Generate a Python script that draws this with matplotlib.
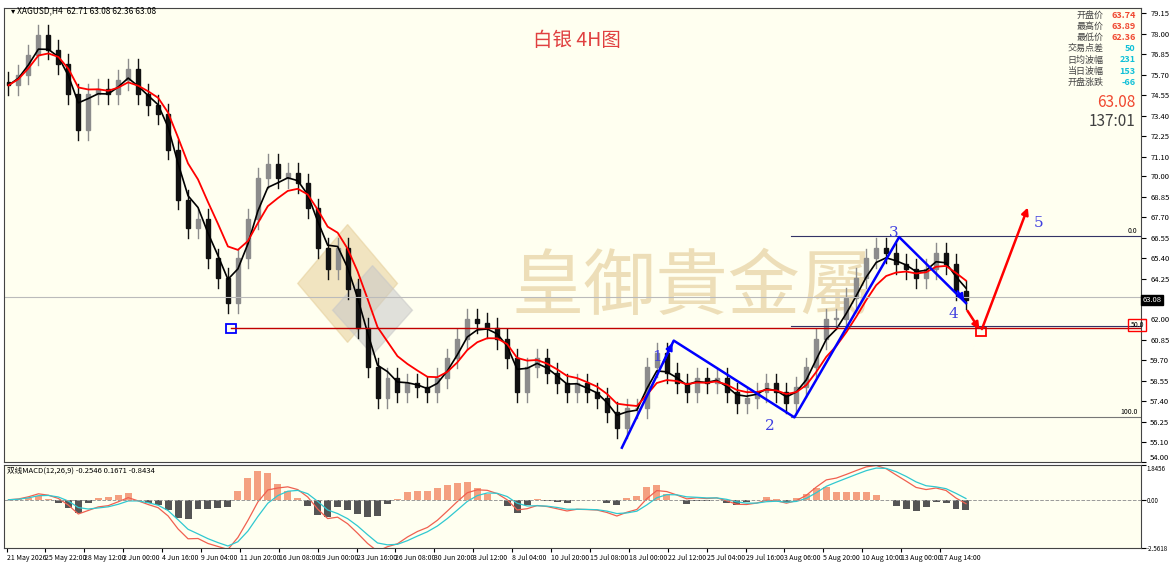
import numpy as np
import pandas as pd
import matplotlib.pyplot as plt
from matplotlib.patches import Rectangle, Polygon

plt.rcParams['font.family'] = ['Noto Sans CJK SC', 'DejaVu Sans']

# closes (one every ~4 bars)
closes = [75.1, 75.7, 76.8, 77.9, 77.1, 76.3, 74.6, 72.6, 74.6, 74.9,
          74.6, 75.4, 76.0, 74.6, 74.0, 73.5, 71.5, 68.7, 67.1, 67.6,
          65.4, 64.3, 62.9, 65.4, 67.6, 69.9, 70.7, 69.9, 70.2, 69.6,
          68.2, 66.0, 64.8, 66.0, 63.7, 61.5, 59.3, 57.6, 58.7, 57.9,
          58.4, 58.2, 57.9, 58.7, 59.8, 60.9, 62.0, 61.8, 61.5, 60.9,
          59.8, 57.9, 59.3, 59.8, 59.0, 58.4, 57.9, 58.4, 57.9, 57.6,
          56.8, 55.9, 57.0, 57.0, 59.3, 60.1, 59.0, 58.4, 57.9, 58.7,
          58.4, 58.7, 57.9, 57.3, 57.6, 57.9, 58.4, 57.9, 57.3, 58.2,
          59.3, 60.9, 62.0, 62.0, 63.2, 64.3, 65.4, 66.0, 65.7, 65.1,
          64.8, 64.3, 64.8, 65.7, 65.1, 63.6, 63.1]
first_open = 75.3
wick = 0.55

date_labels = ["21 May 2026", "25 May 22:00", "28 May 12:00", "2 Jun 00:00", "4 Jun 16:00",
               "9 Jun 04:00", "11 Jun 20:00", "16 Jun 08:00", "19 Jun 00:00", "23 Jun 16:00",
               "26 Jun 08:00", "30 Jun 20:00", "3 Jul 12:00", "8 Jul 04:00", "10 Jul 20:00",
               "15 Jul 08:00", "18 Jul 00:00", "22 Jul 12:00", "25 Jul 04:00", "29 Jul 16:00",
               "3 Aug 06:00", "5 Aug 20:00", "10 Aug 10:00", "13 Aug 00:00", "17 Aug 14:00"]
price_ticks = [79.15, 78.00, 76.85, 75.70, 74.55, 73.40, 72.25, 71.10, 70.00, 68.85,
               67.70, 66.55, 65.40, 64.25, 62.00, 60.85, 59.70, 58.55, 57.40, 56.25, 55.10, 54.00]

info_names = ["开盘价", "最高价", "最低价", "交易点差", "日均波幅", "当日波幅", "开盘涨跌"]
info_vals = ["63.74", "63.89", "62.36", "50", "231", "153", "-66"]

support = 61.5
fib_0, fib_50, fib_100 = 66.68, 61.62, 56.5
last_price = 63.08
wave_x = [620, 672, 793, 898, 965]
wave_y = [54.8, 60.8, 56.5, 66.6, 62.9]
proj_x = [965, 980, 1028]
proj_y = [62.6, 61.3, 68.4]

bg = "#fffff0"
c = np.array(closes)
o = np.concatenate([[first_open], c[:-1]])
hi = np.maximum(o, c) + wick
lo = np.minimum(o, c) - wick
xs = 5 + 10 * np.arange(len(c))

s = pd.Series(c)
ma_fast = s.ewm(span=3).mean()
ma_slow = s.ewm(span=6).mean()
macd = s.ewm(span=4).mean() - s.ewm(span=9).mean()
sig = macd.ewm(span=3).mean()
hist = macd - sig

fig = plt.figure(figsize=(11.7, 5.65), dpi=100, facecolor="white")
W, H = 1170, 565
ax = fig.add_axes([0.003, 1 - 462 / H, 1137 / W, 454 / H], facecolor=bg)
ax2 = fig.add_axes([0.003, 1 - 548 / H, 1137 / W, 83 / H], facecolor=bg)

# candles
for x, oo, cc, h, l in zip(xs, o, c, hi, lo):
    col = "#8c8c8c" if cc >= oo else "#111111"
    ax.plot([x, x], [l, h], color=col, lw=1)
    ax.add_patch(Rectangle((x - 2, min(oo, cc)), 4, max(abs(cc - oo), 0.05), color=col))
ax.plot(xs, ma_fast, color="black", lw=1.2)
ax.plot(xs, ma_slow, color="red", lw=1.3)

# watermark
ax.add_patch(Polygon([(295, 64.0), (345, 67.3), (395, 64.0), (345, 60.7)], closed=True,
                     color="#e6cf9a", alpha=0.55, zorder=0))
ax.add_patch(Polygon([(330, 62.5), (370, 65.0), (410, 62.5), (370, 60.0)], closed=True,
                     color="#c8c8c8", alpha=0.55, zorder=0))
ax.text(690, 63.7, "皇御貴金屬", fontsize=52, color="#e8d4a6", alpha=0.75,
        ha="center", va="center", zorder=0)

ax.text(575, 77.6, "白银 4H图", fontsize=14, color="#e04040", ha="center", va="center",
        family=["Noto Sans CJK SC", "DejaVu Sans"])
ax.text(8, 79.25, "▾ XAGUSD,H4  62.71 63.08 62.36 63.08", fontsize=6, va="center")

# levels
ax.plot([228, 1140], [support, support], color="#c00000", lw=1)
ax.add_patch(Rectangle((223, support - 0.25), 10, 0.5, fill=False, ec="blue", lw=1.3))
ax.axhline(63.23, color="#bbbbbb", lw=0.8)
for lv, lab in [(fib_0, "0.0"), (fib_50, "50.0"), (fib_100, "100.0")]:
    ax.plot([790, 1140], [lv, lv], color="#333366" if lab != "100.0" else "#777777", lw=0.8)
    if lab != "50.0":
        ax.text(1137, lv + 0.05, lab, fontsize=5, ha="right", va="bottom")

# waves
ax.plot(wave_x, wave_y, color="blue", lw=1.8)
ax.annotate("", xy=(wave_x[1], wave_y[1]), xytext=(660, 59.4),
            arrowprops=dict(arrowstyle="-|>", color="blue", lw=1.5))
ax.annotate("", xy=(wave_x[4], wave_y[4]), xytext=(955, 63.7),
            arrowprops=dict(arrowstyle="-|>", color="blue", lw=1.5))
for t, x, y in [("1", 655, 59.9), ("2", 768, 56.0), ("3", 893, 66.8), ("4", 952, 62.3)]:
    ax.text(x, y, t, fontsize=11, color="#4040e0", ha="center", va="center", family="DejaVu Serif")
ax.annotate("", xy=(proj_x[1], proj_y[1]), xytext=(proj_x[0], proj_y[0]),
            arrowprops=dict(arrowstyle="-|>", color="red", lw=1.8))
ax.annotate("", xy=(proj_x[2], proj_y[2]), xytext=(proj_x[1], proj_y[1]),
            arrowprops=dict(arrowstyle="-|>", color="red", lw=1.8))
ax.add_patch(Rectangle((975, proj_y[1] - 0.25), 10, 0.5, fill=False, ec="red", lw=1.3))
ax.text(1038, 67.4, "5", fontsize=11, color="#4040e0", ha="center", va="center", family="DejaVu Serif")

# info panel
for i, (n, v) in enumerate(zip(info_names, info_vals)):
    y = 79.0 - i * 0.62
    ax.text(1103, y, n, fontsize=6.5, ha="right", va="center", color="#444444")
    ax.text(1135, y, v, fontsize=6.5, ha="right", va="center", weight="bold",
            color="#f04830" if i < 3 else "#10c0d8")
ax.text(1135, 74.15, "63.08", fontsize=11, ha="right", va="center", color="#f04830")
ax.text(1135, 73.1, "137:01", fontsize=11, ha="right", va="center", color="#404040")

ax.set_xlim(0, 1140)
ax.set_ylim(54.16, 79.43)
ax.yaxis.tick_right()
ax.set_yticks(price_ticks)
ax.set_yticklabels([f"{t:.2f}" for t in price_ticks], fontsize=5.5)
ax.get_yticklabels()[-1].set_va("bottom")
ax.set_xticks([])
ax.text(1.002, last_price, f"{last_price:.2f}", transform=ax.get_yaxis_transform(), fontsize=5.5,
        color="white", va="center", bbox=dict(fc="black", ec="black", pad=1))
ax.text(0.997, fib_50 + 0.05, "50.0", transform=ax.get_yaxis_transform(), fontsize=5,
        ha="center", va="center", bbox=dict(fc="none", ec="red", pad=1.5), clip_on=False)

# MACD
ax2.bar(xs, hist.clip(lower=0) * 2, width=7, color="#f4a080")
ax2.bar(xs, hist.clip(upper=0) * 2, width=7, color="#555555")
ax2.plot(xs, macd, color="#f06050", lw=0.9)
ax2.plot(xs, sig, color="#30c8d0", lw=0.9)
ax2.axhline(0, color="#999999", lw=0.7, ls="--")
ax2.set_xlim(0, 1140)
ax2.set_ylim(-2.5618, 1.8456)
ax2.yaxis.tick_right()
ax2.set_yticks([1.8456, 0, -2.5618])
ax2.set_yticklabels(["1.8456", "0.00", "-2.5618"], fontsize=4.5)
ax2.get_yticklabels()[0].set_va("top")
ax2.text(4, 1.55, "双线MACD(12,26,9) -0.2546 0.1671 -0.8434", fontsize=5.5, va="center")
ax2.set_xticks(3 + 39 * np.arange(len(date_labels)))
ax2.set_xticklabels(date_labels, fontsize=5, ha="left")
ax2.tick_params(axis="x", length=3, pad=1)
ax2.tick_params(axis="y", pad=1)

for a in (ax, ax2):
    for sp in a.spines.values():
        sp.set_color("#444444")
fig.savefig("out.png", dpi=100, facecolor="white")
